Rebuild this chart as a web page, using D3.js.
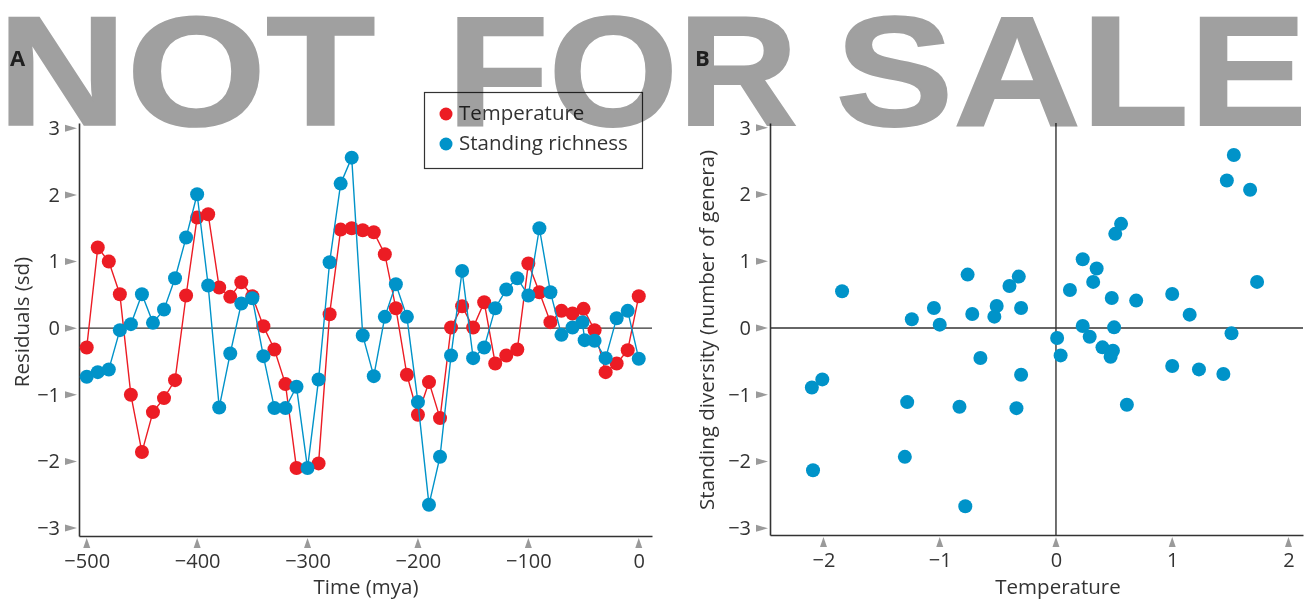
<!DOCTYPE html>
<html>
<head>
<meta charset="utf-8">
<script src="https://cdn.jsdelivr.net/npm/d3@7"></script>
<style>
  body { margin: 0; background: #fff; }
  svg text { font-family: "Open Sans", sans-serif; fill: #333; }
</style>
</head>
<body>
<svg id="chart" width="1308" height="602"></svg>
<script>
"use strict"

// ---------- data ----------
// panel A, temperature residuals (red)
let tempTime = [-500, -490, -480, -470, -460, -450, -440, -430, -420, -410,
    -400, -390, -380, -370, -360, -350, -340, -330, -320, -310,
    -290, -280, -270, -260, -250, -240, -230, -220, -210, -200,
    -190, -180, -170, -160, -150, -140, -130, -120, -110, -100,
    -90, -80, -70, -60, -50, -40, -30, -20, -10, 0];
let tempResid = [-0.29, 1.21, 1.0, 0.51, -1.0, -1.86, -1.26, -1.05, -0.78, 0.49,
    1.66, 1.71, 0.61, 0.47, 0.69, 0.48, 0.03, -0.32, -0.84, -2.1,
    -2.03, 0.21, 1.48, 1.5, 1.47, 1.44, 1.11, 0.3, -0.7, -1.3,
    -0.81, -1.35, 0.01, 0.33, 0.01, 0.39, -0.53, -0.41, -0.32, 0.97,
    0.54, 0.09, 0.26, 0.22, 0.29, -0.03, -0.66, -0.53, -0.33, 0.48];

// panel A, standing richness residuals (blue)
let richTime = [-500, -490, -480, -470, -460, -450, -440, -430, -420, -410,
    -400, -390, -380, -370, -360, -350, -340, -330, -320, -310,
    -300, -290, -280, -270, -260, -250, -240, -230, -220, -210,
    -200, -190, -180, -170, -160, -150, -140, -130, -120, -110,
    -100, -90, -80, -70, -60, -51, -49, -40, -30, -20, -10, 0];
let richResid = [-0.73, -0.66, -0.62, -0.03, 0.06, 0.51, 0.08, 0.28, 0.75, 1.36,
    2.01, 0.64, -1.19, -0.38, 0.37, 0.45, -0.42, -1.2, -1.2, -0.88,
    -2.1, -0.77, 0.99, 2.17, 2.56, -0.11, -0.72, 0.17, 0.66, 0.17,
    -1.11, -2.65, -1.93, -0.41, 0.86, -0.45, -0.29, 0.3, 0.58, 0.75,
    0.49, 1.5, 0.54, -0.1, 0.01, 0.09, -0.18, -0.19, -0.45, 0.15, 0.26, -0.46];

// panel B, temperature vs standing diversity
let scatterTemp = [-1.84, -2.10, -2.01, -2.09, -1.24, -1.05, -1.00, -1.28, -1.30, -0.76,
    -0.72, -0.83, -0.65, -0.78, -0.53, -0.51, -0.40, -0.32, -0.30, -0.30,
    -0.34, 0.01, 0.04, 0.12, 0.23, 0.35, 0.32, 0.23, 0.29, 0.40,
    0.49, 0.47, 0.50, 0.48, 0.51, 0.56, 0.69, 0.61, 1.00, 1.00,
    1.15, 1.23, 1.44, 1.51, 1.47, 1.53, 1.67, 1.73];
let scatterDiv = [0.55, -0.89, -0.77, -2.13, 0.13, 0.30, 0.05, -1.11, -1.93, 0.80,
    0.21, -1.18, -0.45, -2.67, 0.17, 0.33, 0.63, 0.77, 0.30, -0.70,
    -1.20, -0.15, -0.41, 0.57, 1.03, 0.89, 0.69, 0.03, -0.13, -0.29,
    -0.34, -0.43, 0.01, 0.45, 1.41, 1.56, 0.41, -1.15, 0.51, -0.57,
    0.20, -0.62, -0.69, -0.08, 2.21, 2.59, 2.07, 0.69];

let yTicks = [-3, -2, -1, 0, 1, 2, 3];
let timeTicks = [-500, -400, -300, -200, -100, 0];
let tempTicks = [-2, -1, 0, 1, 2];

let red = "#ec1c24";
let blue = "#0093c9";
let ink = "#333";
let tickGrey = "#9a9a9a";
let intFormat = d3.format("d");

let svg = d3.select("#chart");

// ---------- helpers ----------
function styleAxis(g) {
    g.attr("font-family", null).attr("font-size", null);
    g.select(".domain").attr("stroke", ink).attr("stroke-width", 1.6);
    g.selectAll("text").style("font-size", "20px").attr("fill", ink);
}

function leftAxis(yScale, xPos, ticks) {
    let g = svg.append("g")
        .attr("transform", "translate(" + xPos + ",0)")
        .call(d3.axisLeft(yScale).tickValues(ticks).tickFormat(intFormat)
            .tickSize(0).tickSizeOuter(0).tickPadding(19));
    styleAxis(g);
    // little grey arrowheads pointing at the axis
    g.selectAll(".arrow")
        .data(ticks)
        .enter()
        .append("path")
        .attr("d", function (d) {
            let y = yScale(d);
            return "M-14," + (y - 3.5) + "L-2," + y + "L-14," + (y + 3.5) + "Z";
        })
        .attr("fill", tickGrey);
}

function bottomAxis(xScale, yPos, ticks) {
    let g = svg.append("g")
        .attr("transform", "translate(0," + yPos + ")")
        .call(d3.axisBottom(xScale).tickValues(ticks).tickFormat(intFormat)
            .tickSize(0).tickSizeOuter(0).tickPadding(18));
    styleAxis(g);
    g.selectAll(".arrow")
        .data(ticks)
        .enter()
        .append("path")
        .attr("d", function (d) {
            let x = xScale(d);
            return "M" + (x - 3.5) + ",12L" + x + ",2L" + (x + 3.5) + ",12Z";
        })
        .attr("fill", tickGrey);
}

// ---------- panel A ----------
let xA = d3.scaleLinear().domain([-507, 12]).range([79, 652]);
let yA = d3.scaleLinear().domain([-3.12, 3.08]).range([536, 123]);

svg.append("line")
    .attr("x1", xA.range()[0]).attr("x2", xA.range()[1])
    .attr("y1", yA(0)).attr("y2", yA(0))
    .attr("stroke", ink).attr("stroke-width", 1.4);

leftAxis(yA, 79, yTicks);
bottomAxis(xA, 536, timeTicks);

let tempData = tempTime.map(function (t, i) { return {t: t, v: tempResid[i]}; });
let richData = richTime.map(function (t, i) { return {t: t, v: richResid[i]}; });

let lineA = d3.line()
    .x(function (d) { return xA(d.t); })
    .y(function (d) { return yA(d.v); });

function drawSeries(data, colour) {
    svg.append("path")
        .datum(data)
        .attr("d", lineA)
        .attr("fill", "none")
        .attr("stroke", colour)
        .attr("stroke-width", 1.4);
    svg.append("g")
        .selectAll("circle")
        .data(data)
        .enter()
        .append("circle")
        .attr("cx", function (d) { return xA(d.t); })
        .attr("cy", function (d) { return yA(d.v); })
        .attr("r", 7)
        .attr("fill", colour);
}
drawSeries(tempData, red);
drawSeries(richData, blue);

svg.append("text")
    .attr("x", 366).attr("y", 594)
    .attr("text-anchor", "middle")
    .style("font-size", "20.5px")
    .text("Time (mya)");

svg.append("text")
    .attr("transform", "translate(29,322) rotate(-90)")
    .attr("text-anchor", "middle")
    .style("font-size", "20.5px")
    .text("Residuals (sd)");

svg.append("text")
    .attr("x", 10).attr("y", 66)
    .style("font-size", "22px").style("font-weight", "bold")
    .text("A");

// legend
let legend = svg.append("g");
legend.append("rect")
    .attr("x", 424.5).attr("y", 92.5)
    .attr("width", 218).attr("height", 76)
    .attr("fill", "#fff").attr("stroke", ink).attr("stroke-width", 1.2);
let legendItems = [["Temperature", red], ["Standing richness", blue]];
legend.selectAll(".item")
    .data(legendItems)
    .enter()
    .append("g")
    .each(function (d, i) {
        let item = d3.select(this);
        item.append("circle")
            .attr("cx", 446).attr("cy", 114 + i * 30)
            .attr("r", 6.5).attr("fill", d[1]);
        item.append("text")
            .attr("x", 459).attr("y", 120 + i * 30)
            .style("font-size", "20.5px")
            .text(d[0]);
    });

// ---------- panel B ----------
let xB = d3.scaleLinear().domain([-2.46, 2.125]).range([770, 1303]);
let yB = d3.scaleLinear().domain([-3.1, 3.07]).range([535, 123]);

svg.append("line")
    .attr("x1", xB.range()[0]).attr("x2", xB.range()[1])
    .attr("y1", yB(0)).attr("y2", yB(0))
    .attr("stroke", ink).attr("stroke-width", 1.4);
svg.append("line")
    .attr("x1", xB(0)).attr("x2", xB(0))
    .attr("y1", yB.range()[0]).attr("y2", yB.range()[1])
    .attr("stroke", ink).attr("stroke-width", 1.4);

leftAxis(yB, 770, yTicks);
bottomAxis(xB, 535, tempTicks);

svg.append("g")
    .selectAll("circle")
    .data(scatterTemp)
    .enter()
    .append("circle")
    .attr("cx", function (d) { return xB(d); })
    .attr("cy", function (d, i) { return yB(scatterDiv[i]); })
    .attr("r", 7)
    .attr("fill", blue);

svg.append("text")
    .attr("x", 1058).attr("y", 594)
    .attr("text-anchor", "middle")
    .style("font-size", "20.5px")
    .text("Temperature");

svg.append("text")
    .attr("transform", "translate(714,330) rotate(-90)")
    .attr("text-anchor", "middle")
    .style("font-size", "20.5px")
    .text("Standing diversity (number of genera)");

svg.append("text")
    .attr("x", 695).attr("y", 66)
    .style("font-size", "22px").style("font-weight", "bold")
    .text("B");

// ---------- watermark over everything ----------
// each word is squeezed/stretched so its ink covers the span seen in the picture
let stampFont = "bold 156px 'Liberation Sans'";
let stampWords = [["NOT", 8, 375], ["FOR", 457, 796], ["SALE", 839, 1301]];
let stampStroke = 2;
let measure = document.createElement("canvas").getContext("2d");
measure.font = stampFont;

let stamp = svg.append("g").style("mix-blend-mode", "multiply");
stampWords.forEach(function (w) {
    let m = measure.measureText(w[0]);
    let inkW = m.actualBoundingBoxLeft + m.actualBoundingBoxRight;
    let sx = (w[2] - w[1] - stampStroke) / inkW;
    let tx = w[1] + stampStroke / 2 + sx * m.actualBoundingBoxLeft;
    stamp.append("text")
        .attr("transform", "translate(" + tx + ",125) scale(" + sx + ",1)")
        .style("font-family", "'Liberation Sans', Arial, sans-serif")
        .style("font-weight", "bold")
        .style("font-size", "156px")
        .style("fill", "#a0a0a0")
        .style("stroke", "#a0a0a0")
        .style("stroke-width", stampStroke / sx)
        .text(w[0]);
});
</script>
</body>
</html>
